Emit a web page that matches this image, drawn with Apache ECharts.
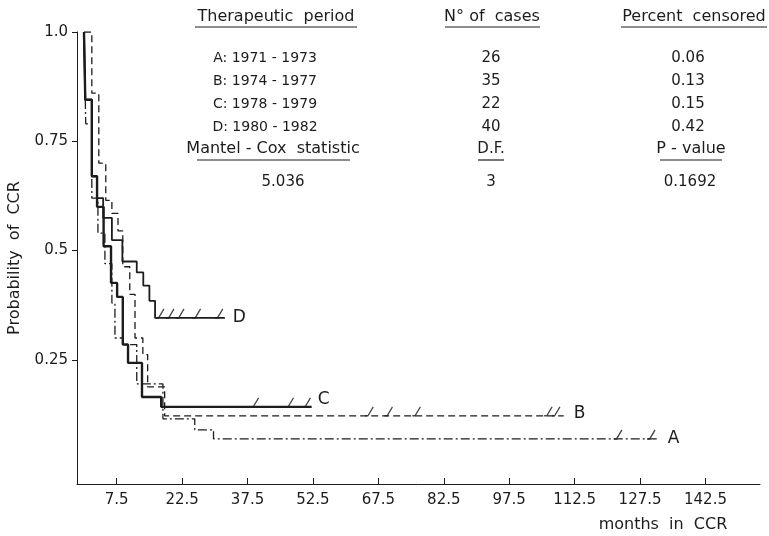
<!DOCTYPE html>
<html><head><meta charset="utf-8">
<script src="https://cdn.jsdelivr.net/npm/echarts@6/dist/echarts.min.js"></script>
<style>html,body{margin:0;padding:0;background:#fff}#c{width:769px;height:536px}</style>
</head><body><div id="c"></div>
<script>
// ---- data (months in CCR, probability of CCR) ----
const timesA = [0, 0.4, 1.8, 3.2, 4.8, 6.4, 7.1, 8.9, 12.1, 18.1, 25.4, 29.7, 131.8];
const survA  = [1.0, 0.79, 0.62, 0.54, 0.47, 0.38, 0.30, 0.285, 0.195, 0.115, 0.09, 0.069, 0.069];
const timesB = [0, 1.8, 3.4, 5.0, 6.4, 7.8, 8.9, 10.5, 11.7, 13.5, 14.6, 18.5, 110];
const survB  = [1.0, 0.86, 0.70, 0.615, 0.585, 0.545, 0.463, 0.40, 0.30, 0.262, 0.188, 0.122, 0.122];
const timesC = [0, 0.3, 1.8, 3.0, 4.5, 6.2, 7.6, 8.9, 10.1, 13.3, 17.7, 52.2];
const survC  = [1.0, 0.845, 0.67, 0.60, 0.51, 0.426, 0.394, 0.285, 0.243, 0.165, 0.1425, 0.1425];
const timesD = [0, 0.3, 1.8, 3.0, 4.4, 6.4, 8.8, 12.1, 13.6, 15.0, 16.3, 32.3];
const survD  = [1.0, 0.845, 0.67, 0.62, 0.575, 0.524, 0.475, 0.45, 0.42, 0.385, 0.346, 0.346];
const censorA = [123.1, 130.7];
const censorB = [66.1, 70.5, 76.9, 107.1, 108.9];
const censorC = [39.8, 47.8, 51.7];
const censorD = [18.1, 20.4, 22.7, 26.5, 31.6];
const xTicks = [7.5, 22.5, 37.5, 52.5, 67.5, 82.5, 97.5, 112.5, 127.5, 142.5];
const yTicks = [0.25, 0.5, 0.75, 1.0];
const yTickLabels = ['0.25', '0.5', '0.75', '1.0'];
const periods = ['A: 1971 - 1973', 'B: 1974 - 1977', 'C: 1978 - 1979', 'D: 1980 - 1982'];
const nCases = ['26', '35', '22', '40'];
const pctCensored = ['0.06', '0.13', '0.15', '0.42'];
const statValues = ['5.036', '3', '0.1692'];

const INK = '#1c1c1c';
const FONT = '"DejaVu Sans", sans-serif';
function pairs(t, s) { return t.map((v, i) => [v, s[i]]); }
function levelAt(t, s, x) { let v = s[0]; for (let i = 0; i < t.length; i++) { if (t[i] <= x) v = s[i]; } return v; }
function censorPts(c, t, s) { return c.map(x => [x, levelAt(t, s, x)]); }

const tickPath = 'path://M0,9 L3,9 L9,0';
function stepSeries(name, t, s, width, type, labelOffset) {
  return {
    type: 'line', name: name, step: 'end', data: pairs(t, s), symbol: 'none',
    lineStyle: { color: INK, width: width, type: type },
    endLabel: { show: true, formatter: name, color: INK, fontSize: 17, fontFamily: FONT, offset: labelOffset },
    z: 3
  };
}
function censorSeries(c, t, s) {
  return {
    type: 'scatter', data: censorPts(c, t, s), symbol: tickPath, symbolSize: [8, 9],
    symbolOffset: [-3, -4.5],
    itemStyle: { color: 'rgba(0,0,0,0)', borderColor: INK, borderWidth: 1.4 }, z: 4
  };
}

const chart = echarts.init(document.getElementById('c'), null, { renderer: 'canvas' });

const g = [];
function txt(x, y, s, size) {
  g.push({ type: 'text', x: x, y: y, style: { text: s, fill: INK, font: (size || 15) + 'px ' + FONT, textAlign: 'center', textVerticalAlign: 'middle' } });
}
function uline(x1, x2, y) {
  g.push({ type: 'line', shape: { x1: x1, y1: y, x2: x2, y2: y }, style: { stroke: INK, lineWidth: 1.2 } });
}
txt(276, 17, 'Therapeutic  period', 16); uline(195, 357, 27);
txt(492, 17, 'N° of  cases', 16); uline(445, 540, 27);
txt(694, 17, 'Percent  censored', 16); uline(621, 767, 27);
const rowY = [58, 81, 104, 127];
periods.forEach((p, i) => txt(265, rowY[i], p, 14));
nCases.forEach((p, i) => txt(491, rowY[i], p));
pctCensored.forEach((p, i) => txt(688, rowY[i], p));
txt(273, 149, 'Mantel - Cox  statistic', 16); uline(197, 350, 160);
txt(491, 149, 'D.F.', 15); uline(478, 504, 160);
txt(691, 149, 'P - value', 16); uline(660, 722, 160);
txt(283, 182, statValues[0]); txt(491, 182, statValues[1]); txt(690, 182, statValues[2]);
txt(663, 525, 'months  in  CCR', 16);

chart.setOption({
  animation: false,
  backgroundColor: '#ffffff',
  grid: { left: 77, top: 32, right: 9, bottom: 52, outerBoundsMode: 'none', containLabel: false },
  xAxis: {
    type: 'value', min: -1.6, max: 155,
    splitLine: { show: false },
    axisLine: { show: true, onZero: false, lineStyle: { color: INK, width: 1 } },
    axisTick: { show: true, inside: true, length: 6, customValues: xTicks, lineStyle: { color: INK } },
    axisLabel: { customValues: xTicks, color: INK, fontSize: 15, fontFamily: FONT, margin: 9,
      formatter: v => String(v) }
  },
  yAxis: {
    type: 'value', min: -0.034, max: 1.0,
    name: 'Probability  of  CCR', nameLocation: 'middle', nameRotate: 90, nameGap: 54,
    nameTextStyle: { color: INK, fontSize: 16, fontFamily: FONT },
    splitLine: { show: false },
    axisLine: { show: true, onZero: false, lineStyle: { color: INK, width: 1 } },
    axisTick: { show: true, length: 5, customValues: yTicks, lineStyle: { color: INK } },
    axisLabel: { customValues: yTicks, color: INK, fontSize: 15, fontFamily: FONT, margin: 9,
      formatter: v => yTickLabels[yTicks.indexOf(v)] || '' }
  },
  graphic: g,
  series: [
    stepSeries('A', timesA, survA, 1.3, [9, 3, 2, 3], [1, 0]),
    stepSeries('B', timesB, survB, 1.3, [7, 4], [2, -2]),
    stepSeries('C', timesC, survC, 2.4, 'solid', [-2, -7]),
    stepSeries('D', timesD, survD, 1.8, 'solid', [0, 0]),
    censorSeries(censorA, timesA, survA),
    censorSeries(censorB, timesB, survB),
    censorSeries(censorC, timesC, survC),
    censorSeries(censorD, timesD, survD)
  ]
});
</script></body></html>
